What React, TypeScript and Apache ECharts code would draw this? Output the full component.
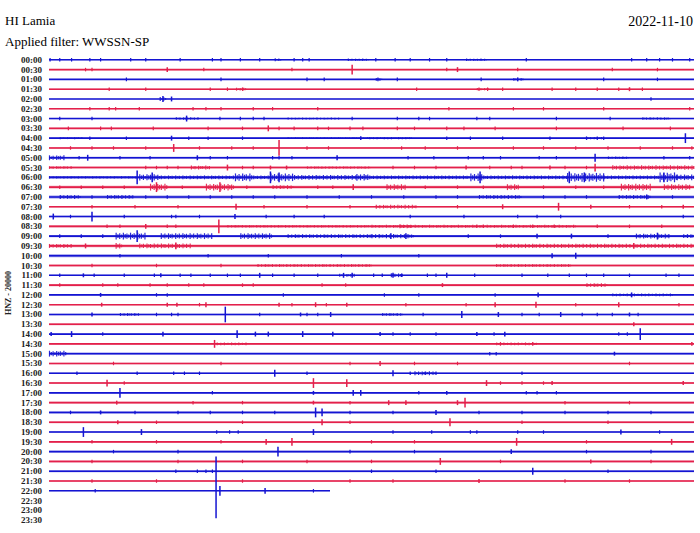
import React, { useEffect, useRef } from "react";
import * as echarts from "echarts";

const timeLabels = [
  "00:00","00:30","01:00","01:30","02:00","02:30","03:00","03:30","04:00","04:30",
  "05:00","05:30","06:00","06:30","07:00","07:30","08:00","08:30","09:00","09:30",
  "10:00","10:30","11:00","11:30","12:00","12:30","13:00","13:30","14:00","14:30",
  "15:00","15:30","16:00","16:30","17:00","17:30","18:00","18:30","19:00","19:30",
  "20:00","20:30","21:00","21:30","22:00","22:30","23:00","23:30",
];

// background noise half-amplitude of each recorded line
const noiseLevel = [
  0.5, 0.6, 0.3, 0.7, 0.3, 0.6, 0.6, 0.6, 0.7, 0.9,
  0.9, 1.0, 1.3, 1.5, 1.5, 0.8, 0.7, 1.0, 1.2, 1.4,
  1.5, 1.0, 0.6, 1.2, 0.5, 0.6, 0.7, 1.0, 0.6, 1.0,
  0.8, 0.8, 0.7, 1.0, 0.7, 0.8, 1.1, 1.0, 0.7, 0.9,
  1.0, 1.2, 1.0, 0.8, 0.5,
];
// minutes recorded in the last line (22:00)
const lastLineEnd = 13.07;

// small wiggles (minute within the 30-minute line)
const ticks: number[][] = [
  [0.05,0.5,1.05,1.9,2.4,3.8,4.5,6.1,7.6,8.0,8.9,9.8,11.4,11.8,12.1,15.2,16.1,16.8,17.7,18.5,22.2,27.1,27.8,28.4,29.0,29.8],
  [1.7,2.0,7.2,11.3,18.5,21.8,26.2,28.3],
  [3.6,8.0,12.0,12.8,15.3,16.2,20.1,25.8,28.3],
  [2.8,4.5,7.5,8.3,9.0,17.1,20.0,20.4,21.1,23.4,24.5,25.5,26.5,27.6],
  [28.0],
  [1.9,2.8,3.1,4.2,6.7,7.3,8.0,9.5,10.4,12.5,18.6,21.6,23.0,25.8,29.8],
  [0.5,2.0,7.95,8.9,9.5,10.0,14.1,16.2,17.2,17.7,19.9,20.5,23.6,26.1],
  [0.9,2.4,2.9,4.85,7.4,9.0,10.7,11.4,12.5,13.0,14.0,14.6,16.2,17.0,18.5,19.3,20.75,23.6,26.7,28.9],
  [1.9,3.6,6.5,7.4,9.0,18.5,19.6,21.1,23.3,25.0,25.5,25.8],
  [1.0,2.0,3.0,4.5,7.0,8.5,9.5,12.0,13.0,16.4,17.5,19.0,21.6,23.0,24.5,26.0,27.5,29.0,29.9],
  [1.4,3.3,4.7,7.5,8.3,10.4,10.7,11.3,16.7,17.9,19.5,20.2,21.0,22.8,23.6,28.6,29.8],
  [4.5,5.0,5.5,6.0,9.0,9.5,16.0,17.0,18.0,20.5,21.5,22.0,24.0,25.0],
  [],
  [0.5,1.5,2.5,3.5,6.2,9.2,12.5,13.2,17.5,19.0,20.2,23.0,24.5,25.8],
  [2.0,4.5,5.5,6.5,7.5,8.5,9.5,10.5,12.0,13.5,15.0,16.5,18.0,19.0,23.0,24.0,25.0,29.0],
  [2.0,4.0,6.0,10.0,12.0,14.0,19.0,27.0,28.5],
  [1.0,3.5,5.7,5.9,7.0,10.1,11.4,12.8,16.8,19.3,21.8,22.7,23.8,29.5],
  [2.7,3.3,5.5,5.9,19.9,20.2,21.6,22.5,23.5,25.5,27.0,28.5],
  [0.5,1.5,2.5,19.5,21.0,26.0,29.7],
  [],
  [3.3,7.4,10.2,13.6,17.2],
  [2.0,5.0,8.0],
  [0.5,2.1,3.5,4.9,6.1,6.6,7.5,8.3,8.9,10.4,11.4,12.5,15.1,15.5,16.4,17.6,18.0,19.8,22.0,23.2,24.2,25.0,25.8,27.0,28.7,29.3],
  [0.5,2.5,3.2,4.7,5.5,6.5,7.2,9.0,9.5,12.7,13.8],
  [5.0,5.5,10.9,15.6,17.2,20.75],
  [7.0,11.3,12.9,16.6,19.4,24.5,29.3],
  [5.0,5.7,6.0,9.8,12.0,12.5,17.4,22.0,22.8,24.8,25.5,26.2,27.4],
  [],
  [2.5,16.0,16.8,18.0,20.7,26.5,26.9],
  [21.0,22.5],
  [20.5,20.8],
  [3.0,8.0,14.0,17.0,19.0,27.0],
  [1.3,4.1,5.8,6.3,7.0,12.0,16.8,17.5,18.0,22.0],
  [3.5,21.0,22.0,23.0],
  [7.6,17.2,22.2,22.7,23.6],
  [6.7,9.0,14.0,24.0,27.0],
  [1.0,4.0,6.0,7.5,9.0,10.5,14.0,16.0,20.0,22.0,24.0,26.0,28.0],
  [5.0,9.0,14.0,22.0,26.0],
  [7.8,8.4,8.8,16.0,17.8,19.6,19.9,21.8,23.0,28.4],
  [2.0,5.0,8.0,15.0,17.0,25.0],
  [3.0,6.0,14.0,17.0,25.0,28.0],
  [2.0,6.0,9.0,12.0,15.0,21.0,28.0],
  [5.9,6.9,7.3,7.6,15.0,18.0,26.0],
  [2.0,5.0,9.0,14.0,16.0,24.0,27.0],
  [2.15,12.3],
];

// single events: [line, minute, amplitude up, amplitude down]
const spikes: number[][] = [
  [1,5.5,2.5,2.5],[1,14.1,5,5],[1,19.0,2.5,2.5],
  [2,21.8,2,2],[3,27.0,2,2],
  [4,5.3,3,3],[4,5.7,2.5,2.5],
  [6,6.4,3,3],[7,10.2,3,3],
  [8,5.7,2.5,2.5],[8,14.5,2,2],[8,29.6,5,5],
  [9,5.8,4,4],[9,10.7,8,8],
  [10,1.8,3,3],[10,6.9,2.5,2.5],[10,13.4,2.5,2.5],[10,25.4,4,4],
  [11,8.3,3,3],[11,10.3,2,2],[11,11.05,2,2],[11,19.4,2,2],[11,23.3,2,2],[11,25.4,4,4],
  [12,4.1,7,7],[12,4.8,5,5],[12,10.3,6,6],[12,10.7,5,5],[12,20.05,6,6],[12,24.2,6,6],[12,24.9,5,5],[12,28.6,5,5],
  [13,5.0,5,5],[13,7.95,5,5],[13,14.15,3,3],
  [14,27.8,2.5,2.5],
  [15,8.7,3,3],[15,21.1,2.5,2.5],[15,23.7,4,4],[15,25.2,2,2],[15,29.5,2,2],
  [16,0.2,3,3],[16,2.0,5,5],[16,8.65,2.5,2.5],
  [17,4.5,2.5,2.5],[17,7.9,7,7],
  [18,4.1,6,6],[18,15.9,3,3],[18,16.6,3,3],[18,22.7,2.5,2.5],[18,24.3,2.5,2.5],[18,28.3,3.5,3.5],
  [19,1.7,2.5,2.5],[19,5.9,3.5,3.5],[19,27.2,3,3],
  [20,23.4,2.5,2.5],[20,24.5,3,3],
  [22,1.6,2,2],[22,5.2,2,2],[22,9.8,2.5,2.5],[22,13.7,2.5,2.5],[22,14.1,2.5,2.5],[22,16.0,2.5,2.5],[22,18.5,2.5,2.5],
  [23,18.3,2,2],
  [24,2.4,2,2],[24,22.75,2.5,2.5],[24,27.1,2.5,2.5],
  [25,2.45,2,2],[25,5.5,2,2],[25,5.95,2,2],[25,7.3,2.5,2.5],[25,10.7,2,2],[25,12.4,2.5,2.5],[25,13.85,2,2],[25,20.75,2.5,2.5],[25,22.65,3,3],[25,26.5,2.5,2.5],
  [26,2.0,2,2],[26,8.2,8,8],[26,11.7,2,2],[26,13.1,2.5,2.5],[26,19.2,3.5,3.5],[26,20.9,2.5,2.5],[26,23.8,2.5,2.5],[26,27.0,2,2],
  [27,27.2,2,2],
  [28,0.1,2,2],[28,1.05,3,3],[28,5.3,2.5,2.5],[28,8.75,4,4],[28,9.6,2.5,2.5],[28,10.2,2.5,2.5],[28,11.8,3,3],[28,13.2,2.5,2.5],[28,15.4,2,2],[28,19.9,2,2],[28,21.2,2.5,2.5],[28,27.5,6,6],
  [29,7.7,4,4],[29,29.9,2,2],
  [30,26.3,2,2],[31,15.4,2.5,2.5],
  [32,10.5,3.5,3.5],[32,16.0,3,3],
  [33,2.7,3.5,3.5],[33,12.3,5,5],[33,13.85,4,4],[33,20.35,3,3],[33,23.4,2,2],[33,29.5,2,2],
  [34,3.3,5,5],[34,12.3,2,2],[34,14.15,3,3],[34,14.5,3,3],[34,18.5,2,2],
  [35,3.15,2,2],[35,12.3,2,2],[35,15.8,2.5,2.5],[35,16.6,2.5,2.5],[35,19.0,2.5,2.5],[35,19.35,5,5],
  [36,2.4,2,2],[36,12.4,5,5],[36,12.7,4,4],[36,18.0,2.5,2.5],
  [37,3.2,2,2],[37,12.7,3,3],[37,18.65,4,4],
  [38,1.6,5,5],[38,4.3,3,3],[38,12.3,3,3],[38,26.6,2.5,2.5],
  [39,10.1,3,3],[39,11.3,4,4],[39,21.75,4,4],[39,28.96,3,3],
  [40,10.65,5,5],[40,21.5,2.5,2.5],
  [41,18.2,3.5,3.5],[41,25.2,2,2],
  [42,22.5,3.5,3.5],[43,20.0,2,2],
  [44,7.77,35,28],[44,7.95,5,5],[44,10.05,3,3],
];

// wave trains: [line, start minute, end minute, amplitude]
const bursts: number[][] = [
  [0,10.5,10.8,1.5],[0,13.9,14.9,1.2],[0,19.4,20.4,1.2],
  [2,15.2,15.5,1.5],[2,21.6,22.1,1.5],
  [3,8.7,9.2,1.5],[3,19.9,20.5,1.2],
  [4,5.15,5.45,2],
  [6,5.9,7.0,1.3],[6,11.1,13.5,1],[6,27.6,28.9,1.3],
  [8,0.5,1.6,1],[8,11.1,14.9,0.9],[8,14.9,16.9,1.2],[8,25.0,25.8,1.2],
  [10,0,0.75,2.5],[10,26.0,27.0,1.3],
  [11,0,1.1,1.3],[11,6.6,7.5,2],[11,12.0,15.0,1.2],[11,26.2,30,2.3],
  [12,0,4.1,1.2],[12,4.2,5.2,3.2],[12,5.2,8.6,2],[12,8.65,9.5,4],[12,9.5,10.3,2],[12,10.3,11.4,4],[12,11.4,14.3,2.5],[12,14.3,14.9,3.5],[12,14.9,19.6,2],[12,19.6,20.2,4],[12,20.2,24.1,2],[12,24.1,25.8,4.5],[12,25.8,28.4,2],[12,28.4,29.2,5],[12,29.2,30,3],
  [13,4.7,5.5,3.5],[13,7.3,8.6,3.5],[13,10.4,11.4,2],[13,15.7,16.6,3],[13,21.3,21.9,3],[13,26.6,28.0,3.5],[13,28.6,29.8,3],
  [14,0.5,1.5,2],[14,2.7,3.9,2],[14,20,22,2],[14,26.5,28,2],
  [15,15.2,17.1,2],
  [17,8.3,15,1.3],[17,15,24.5,1.5],[17,16.3,16.9,2],
  [18,3.1,4.5,3.5],[18,5.2,7.6,3],[18,8.9,10.4,3],[18,11.1,15,2],[18,15,17,2.2],[18,27.3,28.9,2.5],[18,29.5,30,2],
  [19,0,1.1,2],[19,3.1,3.4,3],[19,4.2,6.6,2.5],[19,20.8,30,2.2],
  [21,9.7,15,1.5],[21,20.8,24.3,1.5],
  [22,13.5,14.2,1.5],[22,15.9,16.5,2],
  [23,25,26,2],
  [24,26.2,29,1.5],
  [26,3.3,4.2,1.5],[26,15.5,16.5,1.5],
  [29,7.8,9.2,1.5],[29,20.8,22.7,1.5],
  [30,0,0.8,3],
  [32,17.0,18.0,2],
];

const BLUE = "#1414d2";
const RED = "#e3204b";
const ROW = 10;
const lineColor = (r: number) => (r % 2 === 0 ? BLUE : RED);
// drawing pattern of the strokes inside a wave train (style only)
const combPattern = [1, 0.55, 0.85, 0.45, 0.95, 0.65, 0.8, 0.5];

export default function App() {
  const ref = useRef<HTMLDivElement>(null);
  useEffect(() => {
    if (!ref.current) return;
    const chart = echarts.init(ref.current, null, { renderer: "svg" });

    const lineData = noiseLevel.map((n, r) => [r, r === noiseLevel.length - 1 ? lastLineEnd : 30, n]);
    const tickData: number[][] = [];
    ticks.forEach((arr, r) => arr.forEach((m) => tickData.push([r, m])));

    const option: any = {
      animation: false,
      backgroundColor: "#ffffff",
      grid: { left: 49, top: 50, width: 645, height: 480 },
      xAxis: { type: "value", min: 0, max: 30, show: false },
      yAxis: {
        type: "value",
        inverse: true,
        min: -10,
        max: 480,
        interval: 10,
        axisLine: { show: false },
        axisTick: { show: false },
        splitLine: { show: false },
        axisLabel: {
          margin: 7,
          fontSize: 9,
          fontWeight: "bold",
          fontFamily: "Liberation Serif",
          color: "#222",
          formatter: (v: number) => {
            const i = Math.round(v / ROW);
            return v >= 0 && i < timeLabels.length ? timeLabels[i] : "";
          },
        },
      },
      graphic: [
        { type: "text", left: 5, top: 14, style: { text: "HI Lamia", font: '13px "Liberation Serif"', fill: "#000" } },
        { type: "text", left: 5, top: 35, style: { text: "Applied filter: WWSSN-SP", font: '13px "Liberation Serif"', fill: "#000" } },
        { type: "text", right: 7, top: 14, style: { text: "2022-11-10", font: '14px "Liberation Serif"', fill: "#000" } },
        { type: "text", x: 8, y: 293, rotation: Math.PI / 2, style: { text: "HNZ - 20000", font: 'bold 8px "Liberation Serif"', fill: "#222", align: "center", verticalAlign: "middle" } },
      ],
      series: [
        {
          type: "custom",
          clip: false,
          data: lineData,
          renderItem: (params: any, api: any) => {
            const r = api.value(0);
            const end = api.value(1);
            const n = api.value(2);
            const c = lineColor(r);
            const a = api.coord([0, r * ROW - n]);
            const b = api.coord([end, r * ROW + n]);
            const p0 = api.coord([0, r * ROW]);
            const p1 = api.coord([end, r * ROW]);
            return {
              type: "group",
              children: [
                { type: "rect", shape: { x: a[0], y: a[1], width: b[0] - a[0], height: b[1] - a[1] }, style: { fill: c, opacity: 0.45 } },
                { type: "line", shape: { x1: p0[0], y1: p0[1], x2: p1[0], y2: p1[1] }, style: { stroke: c, lineWidth: 1.6 } },
              ],
            };
          },
        },
        {
          type: "custom",
          clip: false,
          data: bursts,
          renderItem: (params: any, api: any) => {
            const r = api.value(0);
            const c = lineColor(r);
            const amp = api.value(3);
            const s = api.coord([api.value(1), r * ROW]);
            const e = api.coord([api.value(2), r * ROW]);
            const top = api.coord([api.value(1), r * ROW - amp])[1];
            const half = s[1] - top;
            const children: any[] = [];
            let k = 0;
            for (let x = s[0] + 0.5; x <= e[0]; x += 1.8, k++) {
              const h = half * combPattern[k % combPattern.length];
              children.push({ type: "line", shape: { x1: x, y1: s[1] - h, x2: x, y2: s[1] + h }, style: { stroke: c, lineWidth: 1.2, opacity: 0.9 } });
            }
            return { type: "group", children };
          },
        },
        {
          type: "custom",
          clip: false,
          data: tickData,
          renderItem: (params: any, api: any) => {
            const r = api.value(0);
            const a = api.coord([api.value(1), r * ROW - 1.8]);
            const b = api.coord([api.value(1), r * ROW + 1.8]);
            return { type: "line", shape: { x1: a[0], y1: a[1], x2: b[0], y2: b[1] }, style: { stroke: lineColor(r), lineWidth: 1.2 } };
          },
        },
        {
          type: "custom",
          clip: false,
          data: spikes,
          renderItem: (params: any, api: any) => {
            const r = api.value(0);
            const a = api.coord([api.value(1), r * ROW - api.value(2)]);
            const b = api.coord([api.value(1), r * ROW + api.value(3)]);
            return { type: "line", shape: { x1: a[0], y1: a[1], x2: b[0], y2: b[1] }, style: { stroke: lineColor(r), lineWidth: 1.5 } };
          },
        },
      ],
    };
    chart.setOption(option);
    return () => chart.dispose();
  }, []);
  return <div ref={ref} style={{ position: "fixed", left: 0, top: 0, width: 700, height: 533, background: "#fff" }} />;
}
